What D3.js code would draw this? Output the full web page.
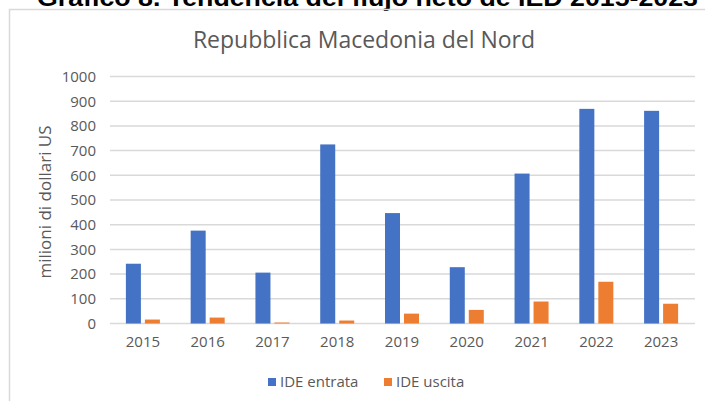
<!DOCTYPE html>
<html>
<head>
<meta charset="utf-8">
<script src="https://cdn.jsdelivr.net/npm/d3@7"></script>
<style>
  body { margin: 0; background: #fff; }
  svg { display: block; font-family: "Open Sans", sans-serif; }
</style>
</head>
<body>
<script>
// data
var years = ['2015', '2016', '2017', '2018', '2019', '2020', '2021', '2022', '2023'];
var seriesNames = ['IDE entrata', 'IDE uscita'];
var entrata = [242, 376, 206, 725, 447, 228, 607, 869, 861];
var uscita = [16, 24, 4, 12, 40, 55, 89, 169, 80];
var yTicks = [0, 100, 200, 300, 400, 500, 600, 700, 800, 900, 1000];
var colors = ['#4472C4', '#ED7D31'];

var width = 705, height = 401;

var svg = d3.select('body')
  .append('svg')
  .attr('width', width)
  .attr('height', height);

// heading of the page above the chart, cut at the top like in the source
svg.append('text')
  .attr('x', 37)
  .attr('y', 6)
  .attr('font-family', 'Liberation Sans, sans-serif')
  .attr('font-weight', 'bold')
  .attr('font-size', 24)
  .attr('textLength', 661)
  .attr('lengthAdjust', 'spacingAndGlyphs')
  .attr('fill', '#000')
  .text('Gráfico 8. Tendencia del flujo neto de IED 2015-2023');

// chart frame
svg.append('path')
  .attr('d', 'M9.5,401 V9.5 H705')
  .attr('fill', 'none')
  .attr('stroke', '#d9d9d9')
  .attr('stroke-width', 1.5);

svg.append('text')
  .attr('x', 364)
  .attr('y', 48)
  .attr('text-anchor', 'middle')
  .attr('font-size', 23)
  .attr('fill', '#595959')
  .text('Repubblica Macedonia del Nord');

var x = d3.scaleBand()
  .domain(years)
  .range([110.5, 693.5])
  .paddingInner(0.475)
  .paddingOuter(0.2375);

var xSub = d3.scaleBand()
  .domain(seriesNames)
  .range([0, x.bandwidth()])
  .paddingInner(0.21);

var y = d3.scaleLinear()
  .domain([0, 1000])
  .range([323.5, 76.5]);

// gridlines
svg.append('g')
  .selectAll('line')
  .data(yTicks)
  .enter()
  .append('line')
  .attr('x1', 110)
  .attr('x2', 695)
  .attr('y1', function(d) { return y(d); })
  .attr('y2', function(d) { return y(d); })
  .attr('stroke', '#d9d9d9')
  .attr('stroke-width', 1.5);

// y axis labels
var yAxis = d3.axisLeft(y).tickValues(yTicks).tickFormat(d3.format('d')).tickSize(0).tickPadding(0);
var yg = svg.append('g')
  .attr('transform', 'translate(96,0)')
  .call(yAxis);
yg.select('.domain').remove();
yg.selectAll('text')
  .attr('font-family', 'Open Sans, sans-serif')
  .attr('font-size', 15)
  .attr('fill', '#595959');

// x axis labels
var xAxis = d3.axisBottom(x).tickSize(0).tickPadding(0);
var xg = svg.append('g')
  .attr('transform', 'translate(0,336)')
  .call(xAxis);
xg.select('.domain').remove();
xg.selectAll('text')
  .attr('font-family', 'Open Sans, sans-serif')
  .attr('font-size', 15)
  .attr('fill', '#595959');

svg.append('text')
  .attr('transform', 'translate(51,202) rotate(-90)')
  .attr('text-anchor', 'middle')
  .attr('font-size', 17)
  .attr('fill', '#595959')
  .text('milioni di dollari US');

// bars
var allSeries = [entrata, uscita];
allSeries.forEach(function(vals, si) {
  svg.append('g')
    .selectAll('rect')
    .data(vals)
    .enter()
    .append('rect')
    .attr('x', function(d, i) { return x(years[i]) + xSub(seriesNames[si]); })
    .attr('width', xSub.bandwidth())
    .attr('y', function(d) { return y(d); })
    .attr('height', function(d) { return y(0) - y(d); })
    .attr('fill', colors[si]);
});

// legend
var legendX = [268, 384];
var legend = svg.append('g')
  .selectAll('g')
  .data(seriesNames)
  .enter()
  .append('g')
  .attr('transform', function(d, i) { return 'translate(' + legendX[i] + ',378)'; });

legend.append('rect')
  .attr('width', 8)
  .attr('height', 8)
  .attr('fill', function(d, i) { return colors[i]; });

legend.append('text')
  .attr('x', 12)
  .attr('y', 9)
  .attr('font-size', 15)
  .attr('fill', '#595959')
  .text(function(d) { return d; });
</script>
</body>
</html>
